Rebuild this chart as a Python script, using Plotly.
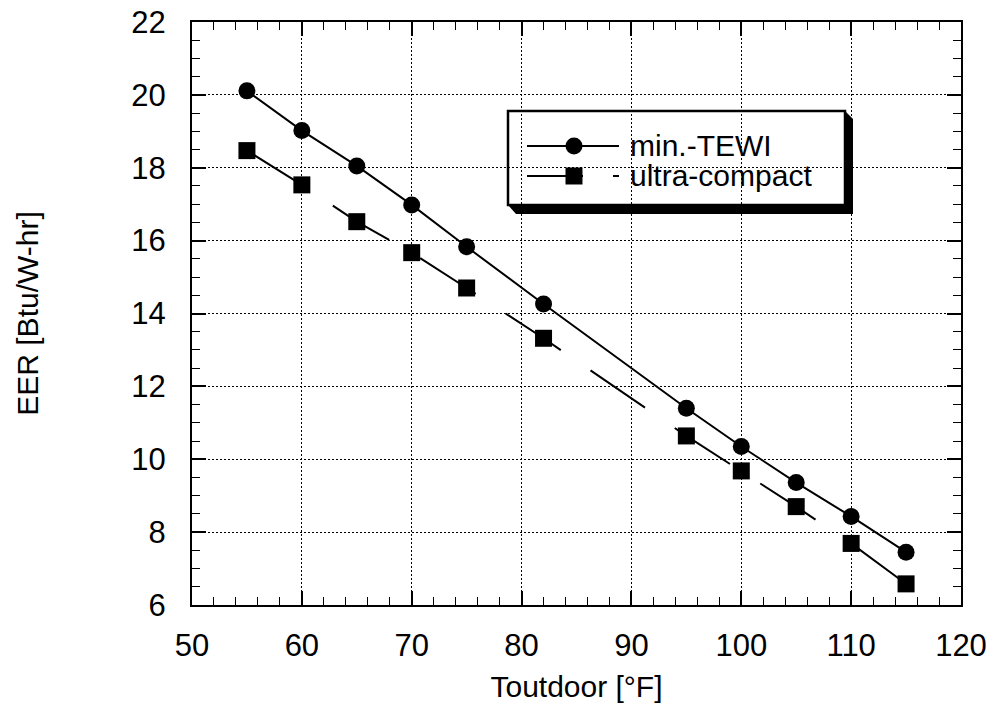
import plotly.graph_objects as go

# ---- data ----
t_outdoor = [55, 60, 65, 70, 75, 82, 95, 100, 105, 110, 115]
eer_min_tewi = [20.11, 19.02, 18.05, 16.98, 15.83, 14.26, 11.40, 10.35, 9.36, 8.43, 7.45]
eer_ultra_compact = [18.47, 17.53, 16.52, 15.67, 14.70, 13.32, 10.64, 9.68, 8.70, 7.69, 6.58]
series_names = ["min.-TEWI", "ultra-compact"]
x_ticks = [50, 60, 70, 80, 90, 100, 110, 120]
y_ticks = [6, 8, 10, 12, 14, 16, 18, 20, 22]

W, H = 992, 709
L, R, T, B = 192, 31, 22, 104
PW, PH = W - L - R, H - T - B
FONT = "Liberation Sans, Arial, Helvetica, sans-serif"


def px(x):
    return (x - L) / PW


def py(y):
    return (H - B - y) / PH


fig = go.Figure()
fig.add_trace(go.Scatter(
    x=t_outdoor, y=eer_min_tewi, mode="lines+markers", name=series_names[0],
    line=dict(color="black", width=2),
    marker=dict(symbol="circle", size=17, color="black"),
    showlegend=False,
))
fig.add_trace(go.Scatter(
    x=t_outdoor, y=eer_ultra_compact, mode="lines+markers", name=series_names[1],
    line=dict(color="black", width=2, dash="66px,36px"),
    marker=dict(symbol="square", size=17, color="black"),
    showlegend=False,
))

axis_common = dict(
    showline=True, linecolor="black", linewidth=2, mirror="ticks",
    ticks="inside", ticklen=14, tickwidth=1.5, tickcolor="black",
    showgrid=True, gridcolor="black", gridwidth=1, griddash="2px,2px",
    zeroline=False, automargin=False,
    tickfont=dict(family=FONT, size=31, color="black"),
)

fig.update_xaxes(
    range=[50, 120], tickmode="array", tickvals=x_ticks,
    ticktext=[str(v) for v in x_ticks],
    minor=dict(dtick=2, ticks="inside", ticklen=8, tickcolor="black", tickwidth=1.2, showgrid=False),
    title=dict(text="Toutdoor [°F]", font=dict(family=FONT, size=30, color="black"), standoff=14),
    ticklabelstandoff=12,
    **axis_common,
)
fig.update_yaxes(
    range=[6, 22], tickmode="array", tickvals=y_ticks,
    ticktext=[str(v) for v in y_ticks],
    minor=dict(dtick=0.5, ticks="inside", ticklen=8, tickcolor="black", tickwidth=1.2, showgrid=False),
    title=dict(text="EER [Btu/W-hr]", font=dict(family=FONT, size=30, color="black"), standoff=84),
    ticklabelstandoff=18,
    **axis_common,
)

# ---- custom legend (box with drop shadow) ----
shapes = []
shapes.append(dict(
    type="path", xref="paper", yref="paper", layer="between",
    path=(f"M {px(508)},{py(205)} L {px(845)},{py(205)} L {px(845)},{py(111)} "
          f"L {px(853)},{py(119)} L {px(853)},{py(214)} L {px(516)},{py(214)} Z"),
    fillcolor="black", line=dict(width=0),
))
shapes.append(dict(
    type="rect", xref="paper", yref="paper", layer="between",
    x0=px(508), x1=px(845), y0=py(205), y1=py(111),
    fillcolor="white", line=dict(color="black", width=2.5),
))
shapes.append(dict(type="line", xref="paper", yref="paper", layer="between",
                   x0=px(527), x1=px(619), y0=py(146), y1=py(146),
                   line=dict(color="black", width=2)))
shapes.append(dict(type="line", xref="paper", yref="paper", layer="between",
                   x0=px(527), x1=px(619), y0=py(176), y1=py(176),
                   line=dict(color="black", width=2, dash="56px,30px")))
shapes.append(dict(type="circle", xref="paper", yref="paper", layer="between",
                   x0=px(565.5), x1=px(582.5), y0=py(154.5), y1=py(137.5),
                   fillcolor="black", line=dict(width=0)))
shapes.append(dict(type="rect", xref="paper", yref="paper", layer="between",
                   x0=px(565.5), x1=px(582.5), y0=py(184.5), y1=py(167.5),
                   fillcolor="black", line=dict(width=0)))

annotations = [
    dict(text=series_names[0], xref="paper", yref="paper", x=px(628), y=py(145),
         xanchor="left", yanchor="middle", showarrow=False,
         font=dict(family=FONT, size=30, color="black")),
    dict(text=series_names[1], xref="paper", yref="paper", x=px(628), y=py(175),
         xanchor="left", yanchor="middle", showarrow=False,
         font=dict(family=FONT, size=30, color="black")),
]

fig.update_layout(
    width=W, height=H,
    margin=dict(l=L, r=R, t=T, b=B, autoexpand=False),
    paper_bgcolor="white", plot_bgcolor="white",
    shapes=shapes, annotations=annotations,
    showlegend=False,
    font=dict(family=FONT, color="black"),
)

fig.write_html(
    "out.html",
    config={"displayModeBar": False},
    post_script=("document.documentElement.style.margin='0';"
                 "document.documentElement.style.overflow='hidden';"
                 "document.body.style.margin='0';"
                 "document.body.style.overflow='hidden';"),
)
